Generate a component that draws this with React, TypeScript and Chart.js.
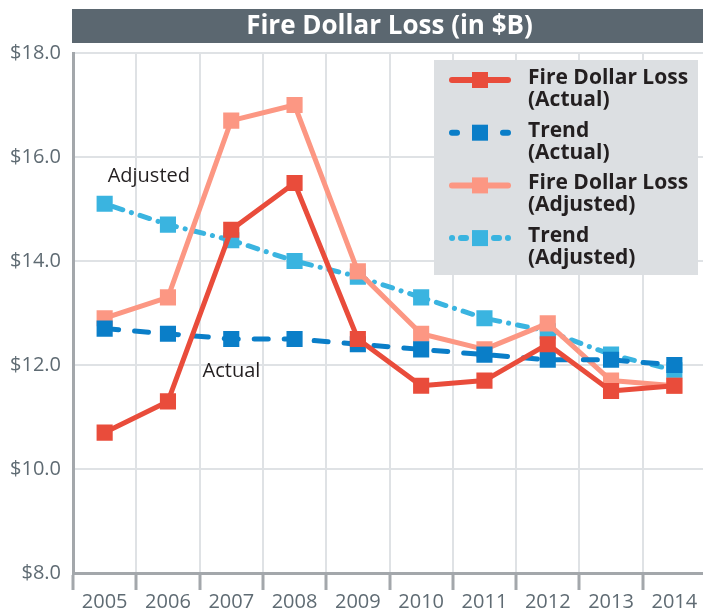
import React, { useEffect, useRef } from "react";
import { Chart, registerables } from "chart.js";

Chart.register(...registerables);

const years = ["2005", "2006", "2007", "2008", "2009", "2010", "2011", "2012", "2013", "2014"];
const lossActual = [10.7, 11.3, 14.6, 15.5, 12.5, 11.6, 11.7, 12.4, 11.5, 11.6];
const trendActual = [12.7, 12.6, 12.5, 12.5, 12.4, 12.3, 12.2, 12.1, 12.1, 12.0];
const lossAdjusted = [12.9, 13.3, 16.7, 17.0, 13.8, 12.6, 12.3, 12.8, 11.7, 11.6];
const trendAdjusted = [15.1, 14.7, 14.4, 14.0, 13.7, 13.3, 12.9, 12.65, 12.2, 11.9];
const legendLabels = [
  ["Fire Dollar Loss", "(Actual)"],
  ["Trend", "(Actual)"],
  ["Fire Dollar Loss", "(Adjusted)"],
  ["Trend", "(Adjusted)"],
];
const titleText = "Fire Dollar Loss (in $B)";
const annotations = [
  { text: "Adjusted", index: 0, value: 15.63 },
  { text: "Actual", index: 1.5, value: 11.87 },
];

const RED = "#e94c3b";
const SALMON = "#fc9783";
const DBLUE = "#0a7ec8";
const LBLUE = "#3ab4e0";
const FONT = "'Open Sans', sans-serif";

const titlePlugin = {
  id: "titleBar",
  beforeDraw(chart: any) {
    const { ctx, chartArea } = chart;
    ctx.save();
    ctx.fillStyle = "#5b6770";
    ctx.fillRect(chartArea.left - 1, 9, chart.width - chartArea.left + 1, 34);
    ctx.fillStyle = "#ffffff";
    ctx.font = `bold 26px ${FONT}`;
    ctx.textAlign = "center";
    ctx.textBaseline = "middle";
    ctx.fillText(titleText, (chartArea.left + chartArea.right) / 2, 27);
    ctx.restore();
  },
};

const overlayPlugin = {
  id: "overlay",
  afterDraw(chart: any) {
    const { ctx, chartArea, scales } = chart;
    ctx.save();
    ctx.fillStyle = "#231f20";
    ctx.font = `20px ${FONT}`;
    ctx.textAlign = "left";
    ctx.textBaseline = "middle";
    annotations.forEach((a) => {
      const x = scales.x.getPixelForValue(a.index) + 3;
      const y = scales.y.getPixelForValue(a.value);
      ctx.fillText(a.text, x, y);
    });
    const bx = chartArea.right - 272;
    const by = chartArea.top + 7;
    ctx.fillStyle = "#dcdfe2";
    ctx.fillRect(bx, by, 264, 215);
    chart.data.datasets.forEach((ds: any, i: number) => {
      const y0 = by + 20 + i * 52.7;
      const lx0 = bx + 18;
      const lx1 = bx + 74;
      ctx.strokeStyle = ds.borderColor;
      ctx.lineWidth = 6;
      ctx.lineCap = "round";
      ctx.setLineDash([]);
      ctx.beginPath();
      if (i === 0 || i === 2) {
        ctx.moveTo(lx0, y0);
        ctx.lineTo(lx1, y0);
      } else if (i === 1) {
        ctx.moveTo(lx0, y0);
        ctx.lineTo(lx0 + 5, y0);
        ctx.moveTo(lx1 - 5, y0);
        ctx.lineTo(lx1, y0);
      } else {
        ctx.moveTo(lx0, y0);
        ctx.lineTo(lx0 + 0.1, y0);
        ctx.moveTo(lx0 + 9, y0);
        ctx.lineTo(lx0 + 14, y0);
        ctx.moveTo(lx1 - 14, y0);
        ctx.lineTo(lx1 - 9, y0);
        ctx.moveTo(lx1 - 0.1, y0);
        ctx.lineTo(lx1, y0);
      }
      ctx.stroke();
      ctx.fillStyle = ds.borderColor;
      const cx = (lx0 + lx1) / 2;
      ctx.fillRect(cx - 8, y0 - 8, 16, 16);
      ctx.fillStyle = "#231f20";
      ctx.font = `bold 21px ${FONT}`;
      ctx.textAlign = "left";
      ctx.textBaseline = "middle";
      legendLabels[i].forEach((line, j) => {
        ctx.fillText(line, bx + 94, y0 - 2 + j * 22);
      });
    });
    ctx.restore();
  },
};

export default function App() {
  const ref = useRef<HTMLCanvasElement>(null);
  useEffect(() => {
    if (!ref.current) return;
    Chart.defaults.font.family = FONT;
    const mk = (label: string, data: number[], color: string, dash: number[]) => ({
      label,
      data,
      borderColor: color,
      backgroundColor: color,
      borderWidth: 5,
      borderDash: dash,
      borderCapStyle: "round" as const,
      borderJoinStyle: "round" as const,
      pointStyle: "rect" as const,
      pointRadius: 11.4,
      pointHoverRadius: 11.4,
      pointBorderWidth: 0,
      pointBackgroundColor: color,
      tension: 0,
      fill: false,
    });
    const chart = new Chart(ref.current, {
      type: "line",
      data: {
        labels: years,
        datasets: [
          mk("Fire Dollar Loss (Actual)", lossActual, RED, []),
          mk("Trend (Actual)", trendActual, DBLUE, [14, 16]),
          mk("Fire Dollar Loss (Adjusted)", lossAdjusted, SALMON, []),
          mk("Trend (Adjusted)", trendAdjusted, LBLUE, [0.1, 9, 10, 9]),
        ],
      },
      options: {
        responsive: false,
        animation: false,
        devicePixelRatio: 1,
        layout: { padding: { top: 53, right: 14, left: 0, bottom: 0 } },
        plugins: { legend: { display: false }, title: { display: false }, tooltip: { enabled: false } },
        scales: {
          x: {
            offset: true,
            grid: {
              offset: true,
              color: "#dfe2e5",
              lineWidth: 2,
              tickColor: "#a3a7ab",
              tickWidth: 3,
              tickLength: 17,
            },
            border: { color: "#a3a7ab", width: 3 },
            ticks: { color: "#5f6b73", font: { size: 20, family: FONT }, padding: 0, maxRotation: 0, autoSkip: false },
            afterFit: (s: any) => { s.height = 42; },
          },
          y: {
            min: 8,
            max: 18,
            grid: { color: "#dfe2e5", lineWidth: 2, drawTicks: false },
            border: { color: "#a3a7ab", width: 3 },
            ticks: {
              stepSize: 2,
              color: "#5f6b73",
              font: { size: 20, family: FONT },
              padding: 12,
              callback: (v: any) => "$" + Number(v).toFixed(1),
            },
            afterFit: (s: any) => { s.width = 73; },
          },
        },
      },
      plugins: [titlePlugin, overlayPlugin],
    });
    return () => chart.destroy();
  }, []);
  return (
    <div style={{ position: "absolute", left: 0, top: 0, width: 703, height: 615, overflow: "hidden", background: "#fff" }}>
      <canvas ref={ref} width={720} height={615} style={{ display: "block" }} />
    </div>
  );
}
